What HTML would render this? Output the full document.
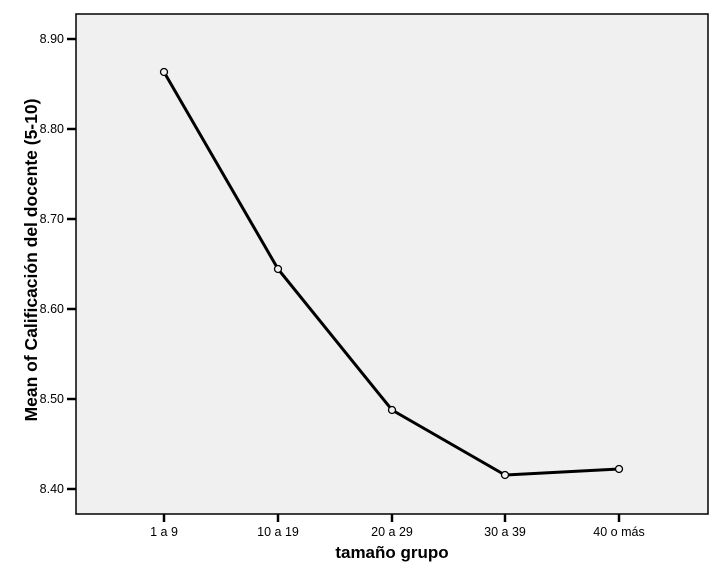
<!DOCTYPE html>
<html><head><style>body{margin:0;background:#fff}svg{display:block}</style></head><body>
<svg width="723" height="578" xmlns="http://www.w3.org/2000/svg" font-family="Liberation Sans, sans-serif">
<rect x="76" y="14" width="632" height="500" fill="#f0f0f0" stroke="#000" stroke-width="1.5"/>
<g stroke="#000" stroke-width="2.5">
<line x1="67" y1="39" x2="76" y2="39"/><line x1="67" y1="129" x2="76" y2="129"/><line x1="67" y1="219" x2="76" y2="219"/><line x1="67" y1="309" x2="76" y2="309"/><line x1="67" y1="399" x2="76" y2="399"/><line x1="67" y1="489" x2="76" y2="489"/>
<line x1="164" y1="514" x2="164" y2="522"/><line x1="278" y1="514" x2="278" y2="522"/><line x1="392" y1="514" x2="392" y2="522"/><line x1="505" y1="514" x2="505" y2="522"/><line x1="619" y1="514" x2="619" y2="522"/>
</g>
<g font-size="12.5" text-anchor="end">
<text x="64" y="43">8.90</text><text x="64" y="133">8.80</text><text x="64" y="223">8.70</text><text x="64" y="313">8.60</text><text x="64" y="403">8.50</text><text x="64" y="493">8.40</text>
</g>
<g font-size="12.5" text-anchor="middle">
<text x="164" y="536">1 a 9</text><text x="278" y="536">10 a 19</text><text x="392" y="536">20 a 29</text><text x="505" y="536">30 a 39</text><text x="619" y="536">40 o más</text>
</g>
<text x="392" y="558" font-size="17" font-weight="bold" text-anchor="middle">tamaño grupo</text>
<text transform="translate(37,260) rotate(-90)" font-size="17.5" font-weight="bold" text-anchor="middle">Mean of Calificación del docente (5-10)</text>
<polyline points="164,72 278,269 392,410 505,475 619,469" fill="none" stroke="#000" stroke-width="3"/>
<g fill="#f0f0f0" stroke="#000" stroke-width="1.3">
<circle cx="164" cy="72" r="3.5"/><circle cx="278" cy="269" r="3.5"/><circle cx="392" cy="410" r="3.5"/><circle cx="505" cy="475" r="3.5"/><circle cx="619" cy="469" r="3.5"/>
</g>
</svg>
</body></html>
